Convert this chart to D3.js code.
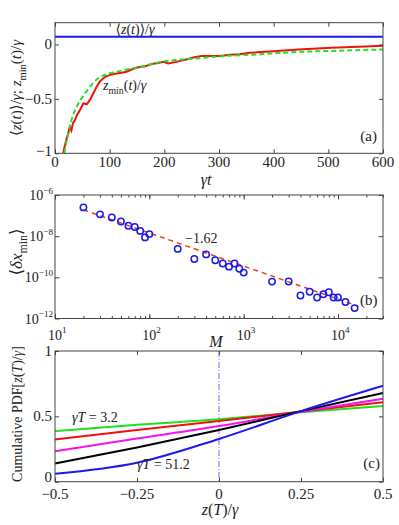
<!DOCTYPE html>
<html>
<head>
<meta charset="utf-8">
<script src="https://cdn.jsdelivr.net/npm/d3@7"></script>
<style>
body { margin: 0; background: #fff; }
svg, svg text { font-family: "Liberation Serif", "Times New Roman", Times, "DejaVu Serif", serif; }
svg text { fill: #222; }
.axis path { display: none; }
.axis line { stroke: #444; }
</style>
</head>
<body>
<svg id="fig" width="399" height="525" font-family="Liberation Serif, Times New Roman, serif"></svg>
<script>
// panel (a): z_min(t)/gamma (red), fit (green dashed), <z(t)>/gamma (blue)
var tRed = [15, 18, 21, 24, 27, 30, 33, 36, 40, 46, 52, 58, 64, 70, 76, 82, 91, 100, 110, 122, 131, 140, 152, 165, 177, 189, 198, 207, 222, 238, 253, 268, 283, 302, 320, 338, 356, 375, 393, 445, 506, 567, 600];
var zRed = [-1.0, -0.93, -0.87, -0.82, -0.76, -0.79, -0.72, -0.70, -0.65, -0.60, -0.54, -0.55, -0.51, -0.45, -0.39, -0.34, -0.30, -0.28, -0.27, -0.26, -0.25, -0.23, -0.21, -0.20, -0.18, -0.17, -0.16, -0.175, -0.16, -0.14, -0.12, -0.105, -0.107, -0.105, -0.095, -0.09, -0.077, -0.07, -0.065, -0.046, -0.031, -0.019, -0.012];
var tGreen = [17, 24, 33, 43, 55, 67, 79, 97, 122, 152, 195, 253, 314, 375, 445, 506, 600];
var zGreen = [-1, -0.82, -0.65, -0.54, -0.45, -0.37, -0.31, -0.27, -0.24, -0.21, -0.16, -0.13, -0.105, -0.09, -0.068, -0.059, -0.046];
var tBlue = [0, 600];
var zBlue = [0.07, 0.07];

// panel (b): <delta x_min> vs M
var mVals = [20, 30, 40, 50, 60, 70, 80, 90, 100, 200, 300, 400, 500, 600, 700, 800, 900, 1000, 2000, 3000, 4000, 5000, 6000, 7000, 8000, 9000, 10000, 12000, 15000];
var dxVals = [2.5e-7, 1.15e-7, 8.1e-8, 5.2e-8, 3.2e-8, 2.8e-8, 1.8e-8, 8.7e-9, 1.26e-8, 2.4e-9, 7.8e-10, 1.3e-9, 6.8e-10, 4.7e-10, 3.3e-10, 4.7e-10, 2.6e-10, 1.7e-10, 6.2e-11, 6.3e-11, 1.3e-11, 2.0e-11, 1.05e-11, 1.5e-11, 1.9e-11, 1.05e-11, 1.05e-11, 6.3e-12, 3.2e-12];
var fitM = [20, 16500];
var fitDx = [1.9e-7, 3.9e-12];

// panel (c): cumulative PDF curves
var zGrid = [-0.5, -0.25, 0, 0.25, 0.5];
var cdfSeries = [
	{name: 'green', color: '#1ee01e', values: [0.387, 0.435, 0.478, 0.532, 0.579]},
	{name: 'red', color: '#f01010', values: [0.323, 0.396, 0.464, 0.537, 0.607]},
	{name: 'magenta', color: '#f014f0', values: [0.233, 0.33, 0.426, 0.535, 0.635]},
	{name: 'black', color: '#000000', values: [0.14, 0.262, 0.396, 0.54, 0.679]},
	{name: 'blue', color: '#1a1aee', values: [0.06, 0.145, 0.327, 0.54, 0.734]}
];

var svg = d3.select('#fig');
var left = 55, right = 383;

// write math-ish text as tspans: [text, 'i'|'sub'|'sup'|'back'|'down']
var mathText = function(sel, parts, size) {
	parts.forEach(function(p) {
		var ts = sel.append('tspan').text(p[0]);
		if(p[1].indexOf('i') >= 0) ts.style('font-style', 'italic');
		if(p[1].indexOf('sub') >= 0) ts.attr('dy', size*0.3).style('font-size', size*0.7 + 'px');
		if(p[1].indexOf('sup') >= 0) ts.attr('dy', -size*0.45).style('font-size', size*0.65 + 'px');
		if(p[1].indexOf('back') >= 0) ts.attr('dy', -size*0.3);
		if(p[1].indexOf('down') >= 0) ts.attr('dy', size*0.45);
	});
	return sel;
};

var frame = function(top, bottom) {
	svg.append('rect')
		.attr('x', left)
		.attr('y', top)
		.attr('width', right - left)
		.attr('height', bottom - top)
		.attr('fill', 'none')
		.attr('stroke', '#444')
		.attr('stroke-width', 1);
};

var boxTicks = function(x, y, top, bottom, xt, yt, len) {
	svg.append('g').attr('class', 'axis')
		.attr('transform', `translate(0, ${bottom})`)
		.call(d3.axisBottom(x).tickValues(xt).tickSize(-len).tickFormat(''));
	svg.append('g').attr('class', 'axis')
		.attr('transform', `translate(0, ${top})`)
		.call(d3.axisTop(x).tickValues(xt).tickSize(-len).tickFormat(''));
	svg.append('g').attr('class', 'axis')
		.attr('transform', `translate(${left}, 0)`)
		.call(d3.axisLeft(y).tickValues(yt).tickSize(-len).tickFormat(''));
	svg.append('g').attr('class', 'axis')
		.attr('transform', `translate(${right}, 0)`)
		.call(d3.axisRight(y).tickValues(yt).tickSize(-len).tickFormat(''));
};

var fmtMinus = function(v) {
	return String(v).replace('-', '\u2212');
};

// ---------- panel (a)
var aTop = 22.7, aBottom = 153.3;
var xA = d3.scaleLinear().domain([0, 600]).range([left, right]);
var yA = d3.scaleLinear().domain([-1, 0.2]).range([aBottom, aTop]);

boxTicks(xA, yA, aTop, aBottom, [0, 100, 200, 300, 400, 500, 600], [-1, -0.5, 0], 4);

svg.append('clipPath').attr('id', 'clipA')
	.append('rect').attr('x', left).attr('y', aTop).attr('width', right - left).attr('height', aBottom - aTop);

var lineA = d3.line()
	.x(d => xA(d[0]))
	.y(d => yA(d[1]));

svg.append('path')
	.datum(d3.zip(tBlue, zBlue))
	.attr('d', lineA)
	.attr('fill', 'none')
	.attr('stroke', '#1a1aee')
	.attr('stroke-width', 2);

svg.append('path')
	.datum(d3.zip(tRed, zRed))
	.attr('d', lineA)
	.attr('clip-path', 'url(#clipA)')
	.attr('fill', 'none')
	.attr('stroke', '#f01010')
	.attr('stroke-width', 2);

svg.append('path')
	.datum(d3.zip(tGreen, zGreen))
	.attr('d', lineA.curve(d3.curveMonotoneX))
	.attr('clip-path', 'url(#clipA)')
	.attr('fill', 'none')
	.attr('stroke', '#22e022')
	.attr('stroke-width', 2)
	.attr('stroke-dasharray', '5,3');

frame(aTop, aBottom);

[0, 100, 200, 300, 400, 500, 600].forEach(function(v) {
	svg.append('text')
		.text(v)
		.attr('x', xA(v))
		.attr('y', aBottom + 14)
		.style('text-anchor', 'middle')
		.style('font-size', '15px');
});
[-1, -0.5, 0].forEach(function(v) {
	svg.append('text')
		.text(fmtMinus(v))
		.attr('x', left - 3)
		.attr('y', yA(v) + (v === -1 ? 3 : 5))
		.style('text-anchor', 'end')
		.style('font-size', '15px');
});

mathText(svg.append('text').attr('x', 206).attr('y', 185).style('font-size', '16px').style('text-anchor', 'middle'),
	[['\u03b3t', 'i']], 16);

mathText(svg.append('text').attr('x', 135).attr('y', 34).style('font-size', '14px').style('text-anchor', 'middle'),
	[['\u27e8', ''], ['z', 'i'], ['(', ''], ['t', 'i'], [')\u27e9/', ''], ['\u03b3', 'i']], 14);

mathText(svg.append('text').attr('x', 103).attr('y', 90).style('font-size', '14px'),
	[['z', 'i'], ['min', 'sub'], ['(', 'back'], ['t', 'i'], [')/', ''], ['\u03b3', 'i']], 14);

svg.append('text')
	.text('(a)')
	.attr('x', 377)
	.attr('y', 141)
	.style('text-anchor', 'end')
	.style('font-size', '15px');

mathText(svg.append('text')
	.attr('transform', 'translate(21, 88) rotate(-90)')
	.style('font-size', '15px')
	.style('text-anchor', 'middle'),
	[['\u27e8', ''], ['z', 'i'], ['(', ''], ['t', 'i'], [')\u27e9/', ''], ['\u03b3', 'i'], ['; ', ''], ['z', 'i'], ['min', 'sub'], ['(', 'back'], ['t', 'i'], [')/', ''], ['\u03b3', 'i']], 15);

// ---------- panel (b)
var bTop = 195, bBottom = 318.5;
var xB = d3.scaleLog().domain([10, 3e4]).range([left, right]);
var yB = d3.scaleLog().domain([1e-12, 1e-6]).range([bBottom, bTop]);

var minorX = [];
[10, 100, 1000, 10000].forEach(function(dec) {
	for(var k = 1; k < 10; k++) {
		if(dec*k <= 3e4) minorX.push(dec*k);
	}
});
svg.append('g').attr('class', 'axis')
	.attr('transform', `translate(0, ${bBottom})`)
	.call(d3.axisBottom(xB).tickValues(minorX).tickSize(-2.5).tickFormat(''));
svg.append('g').attr('class', 'axis')
	.attr('transform', `translate(0, ${bTop})`)
	.call(d3.axisTop(xB).tickValues(minorX).tickSize(-2.5).tickFormat(''));
boxTicks(xB, yB, bTop, bBottom, [10, 100, 1000, 10000], [1e-12, 1e-10, 1e-8, 1e-6], 4.5);

svg.append('path')
	.datum(d3.zip(fitM, fitDx))
	.attr('d', d3.line().x(d => xB(d[0])).y(d => yB(d[1])))
	.attr('fill', 'none')
	.attr('stroke', '#e8401a')
	.attr('stroke-width', 1.5)
	.attr('stroke-dasharray', '5,4');

svg.selectAll('.pt')
	.data(d3.zip(mVals, dxVals))
	.enter()
	.append('circle')
	.attr('class', 'pt')
	.attr('cx', d => xB(d[0]))
	.attr('cy', d => yB(d[1]))
	.attr('r', 3.2)
	.attr('fill', 'none')
	.attr('stroke', '#1a1aee')
	.attr('stroke-width', 1.5);

frame(bTop, bBottom);

[[10, '1'], [100, '2'], [1000, '3'], [10000, '4']].forEach(function(v) {
	mathText(svg.append('text')
		.attr('x', xB(v[0]) - 7)
		.attr('y', bBottom + 21)
		.style('font-size', '14px'),
		[['10', ''], [v[1], 'sup']], 14);
});
[[1e-6, '\u22126'], [1e-8, '\u22128'], [1e-10, '\u221210'], [1e-12, '\u221212']].forEach(function(v) {
	mathText(svg.append('text')
		.attr('x', left - 2)
		.attr('y', yB(v[0]) + 5)
		.style('font-size', '14px')
		.style('text-anchor', 'end'),
		[['10', ''], [v[1], 'sup'], ['', 'down']], 14);
});

mathText(svg.append('text').attr('x', 216).attr('y', 347).style('font-size', '16px').style('text-anchor', 'middle'),
	[['M', 'i']], 16);

svg.append('text')
	.text('\u22121.62')
	.attr('x', 185)
	.attr('y', 243)
	.style('font-size', '14px');

svg.append('text')
	.text('(b)')
	.attr('x', 360)
	.attr('y', 305)
	.style('font-size', '15px');

mathText(svg.append('text')
	.attr('transform', 'translate(22, 252) rotate(-90)')
	.style('font-size', '17px')
	.style('text-anchor', 'middle'),
	[['\u27e8', ''], ['\u03b4x', 'i'], ['min', 'sub'], ['\u27e9', 'back']], 17);

// ---------- panel (c)
var cTop = 351, cBottom = 481.7;
var xC = d3.scaleLinear().domain([-0.5, 0.5]).range([left, right]);
var yC = d3.scaleLinear().domain([0, 1]).range([cBottom, cTop]);

boxTicks(xC, yC, cTop, cBottom, [-0.5, -0.25, 0, 0.25, 0.5], [0, 0.5, 1], 4);

svg.append('line')
	.attr('x1', xC(0))
	.attr('x2', xC(0))
	.attr('y1', cTop)
	.attr('y2', cBottom)
	.attr('stroke', '#4a4ae0')
	.attr('stroke-width', 0.8)
	.attr('stroke-dasharray', '6,2,1,2');

var lineC = d3.line()
	.x((d, i) => xC(zGrid[i]))
	.y(d => yC(d))
	.curve(d3.curveMonotoneX);

svg.selectAll('.cdf')
	.data(cdfSeries)
	.enter()
	.append('path')
	.attr('class', 'cdf')
	.attr('d', d => lineC(d.values))
	.attr('fill', 'none')
	.attr('stroke', d => d.color)
	.attr('stroke-width', 2);

frame(cTop, cBottom);

[-0.5, -0.25, 0, 0.25, 0.5].forEach(function(v) {
	svg.append('text')
		.text(fmtMinus(v))
		.attr('x', xC(v))
		.attr('y', cBottom + 17)
		.style('text-anchor', 'middle')
		.style('font-size', '15px');
});
[0, 0.5, 1].forEach(function(v) {
	svg.append('text')
		.text(v)
		.attr('x', left - 3)
		.attr('y', yC(v) + (v === 0 ? 0 : 5))
		.style('text-anchor', 'end')
		.style('font-size', '15px');
});

mathText(svg.append('text').attr('x', 220).attr('y', 515).style('font-size', '16px').style('text-anchor', 'middle'),
	[['z', 'i'], ['(', ''], ['T', 'i'], [')/', ''], ['\u03b3', 'i']], 16);

mathText(svg.append('text').attr('x', 72).attr('y', 422).style('font-size', '14px'),
	[['\u03b3T', 'i'], [' = 3.2', '']], 14);
mathText(svg.append('text').attr('x', 137).attr('y', 469).style('font-size', '14px'),
	[['\u03b3T', 'i'], [' = 51.2', '']], 14);

svg.append('text')
	.text('(c)')
	.attr('x', 380)
	.attr('y', 468)
	.style('text-anchor', 'end')
	.style('font-size', '15px');

mathText(svg.append('text')
	.attr('transform', 'translate(22, 414) rotate(-90)')
	.style('font-size', '14px')
	.style('text-anchor', 'middle'),
	[['Cumulative PDF[', ''], ['z', 'i'], ['(', ''], ['T', 'i'], [')/', ''], ['\u03b3', 'i'], [']', '']], 14);
</script>
</body>
</html>
